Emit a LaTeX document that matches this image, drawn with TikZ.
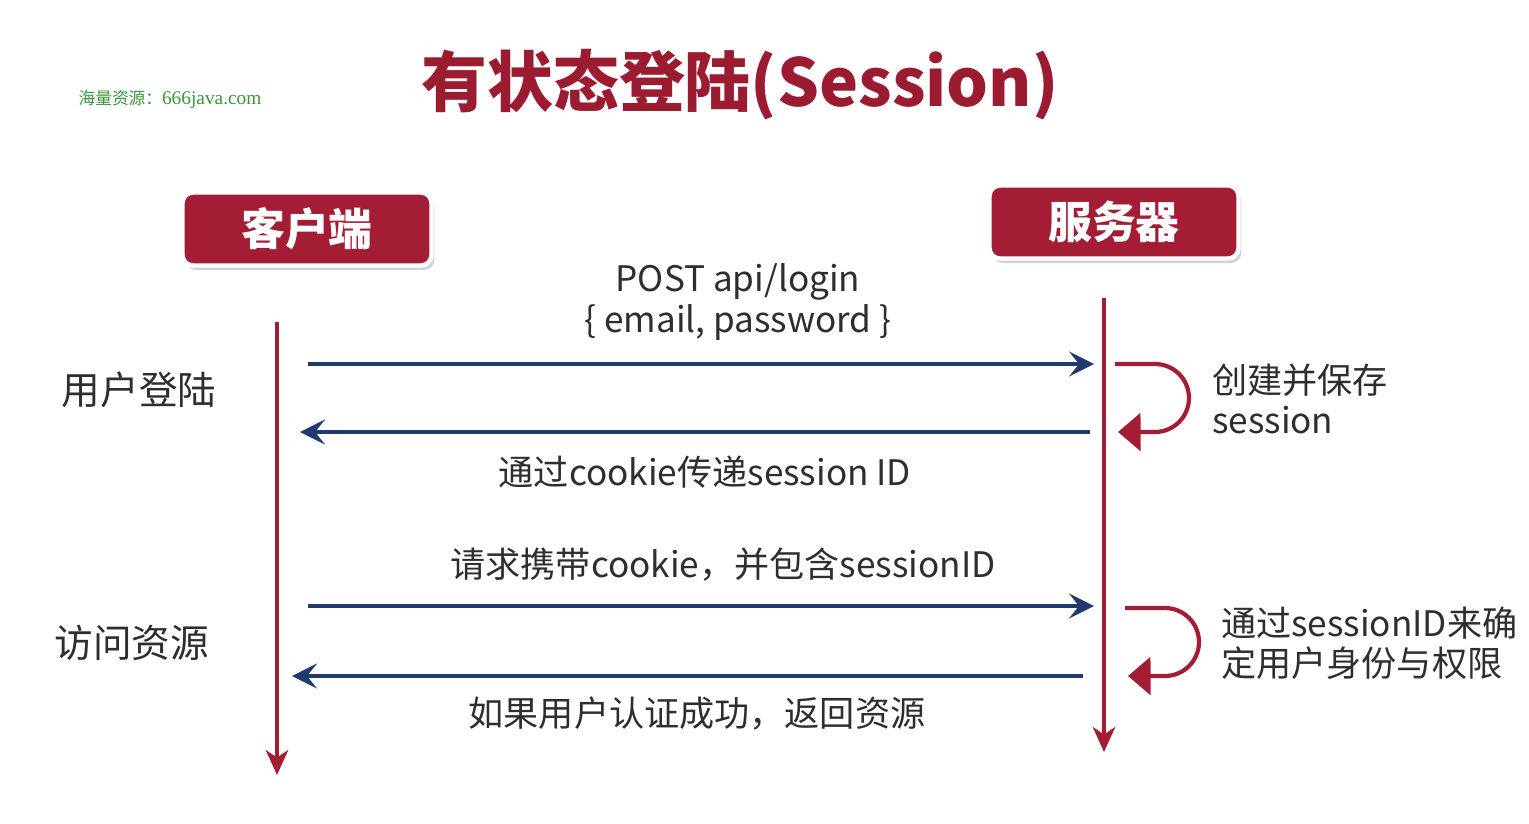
\documentclass[tikz,border=0pt]{standalone}
\usepackage{fontspec}
\setmainfont{Noto Sans CJK SC}
\newfontfamily\wmserif{Liberation Serif}
\usetikzlibrary{positioning,arrows.meta,shadows}
\definecolor{sessred}{HTML}{A31D35}
\definecolor{titlered}{HTML}{9B1B30}
\definecolor{sessnavy}{HTML}{1F3A6E}
\definecolor{wmgreen}{HTML}{3A943A}

\begin{document}
\begin{tikzpicture}[
  x=0.02cm, y=-0.02cm,
  font=\fontsize{20}{23}\selectfont,
  actor/.style={rounded corners=6pt, fill=sessred, draw=white, line width=2.5pt,
                minimum width=4.98cm, minimum height=1.46cm, text=white,
                font=\fontsize{25}{28}\selectfont\bfseries,
                drop shadow={shadow xshift=0.6mm, shadow yshift=-0.9mm, opacity=0.35}},
  life/.style={draw=sessred, line width=1.8pt, -{Stealth[length=5mm, width=4.5mm, inset=1.5mm]}},
  msg/.style={draw=sessnavy, line width=2.4pt, -{Stealth[length=5mm, width=5mm, inset=2mm]}},
  selfloop/.style={draw=sessred, line width=2.4pt, -{Triangle[length=4.5mm, width=7.5mm]}},
  msglbl/.style={text=black!82, align=center},
  side/.style={text=black!82, align=left, anchor=west},
  phase/.style={text=black!82, font=\fontsize{22}{26}\selectfont},
]
\useasboundingbox (0,0) rectangle (1529,823);

% ---- title and watermark ----
\node[text=titlered, font=\fontsize{37.5}{42}\selectfont\bfseries] (title) at (740,85) {有状态登陆(Session)};
\node[text=wmgreen, font=\fontsize{9.5}{11}\selectfont] (mark) at (170,100) {海量资源：{\wmserif\fontsize{11}{12}\selectfont 666java.com}};

% ---- the two parties ----
\node[actor] (client) at (307,229) {客户端};
\node[actor] (server) at (1114,222) {服务器};

% ---- lifelines ----
\coordinate (cTop) at (277,322);  \coordinate (cEnd) at (277,775);
\coordinate (sTop) at (1104,298); \coordinate (sEnd) at (1104,752);
\draw[life] (cTop) -- (cEnd);
\draw[life] (sTop) -- (sEnd);

% ---- message end points ----
\coordinate (c1) at (308,364);  \coordinate (s1) at (1094,364);
\coordinate (s2) at (1090,432); \coordinate (c2) at (300,432);
\coordinate (c3) at (308,606);  \coordinate (s3) at (1094,606);
\coordinate (s4) at (1083,676); \coordinate (c4) at (292,676);

% ---- login ----
\draw[msg] (c1) -- (s1);
\draw[msg] (s2) -- (c2);
\node[msglbl] (post) at (738,302) {POST api/login\\\{ email, password \}};
\node[msglbl] (cookie) at (705,472) {通过cookie传递session ID};
\node[phase] (login) at (139,390) {用户登陆};

% self call: create session
\coordinate (l1a) at (1115,364); \coordinate (l1b) at (1118,432);
\draw[selfloop] (l1a) -- ++(0.8cm,0) arc[start angle=90, end angle=-90, radius=0.68cm] -- (l1b);
\node[side] (create) at (1206,399) {创建并保存\\session};

% ---- access resources ----
\draw[msg] (c3) -- (s3);
\draw[msg] (s4) -- (c4);
\node[msglbl] (req) at (723,565) {请求携带cookie，并包含sessionID};
\node[msglbl] (ret) at (697,714) {如果用户认证成功，返回资源};
\node[phase] (access) at (132,643) {访问资源};

% self call: check identity
\coordinate (l2a) at (1125,608); \coordinate (l2b) at (1128,676);
\draw[selfloop] (l2a) -- ++(0.8cm,0) arc[start angle=90, end angle=-90, radius=0.68cm] -- (l2b);
\node[side] (check) at (1215,643) {通过sessionID来确\\定用户身份与权限};
\end{tikzpicture}
\end{document}
